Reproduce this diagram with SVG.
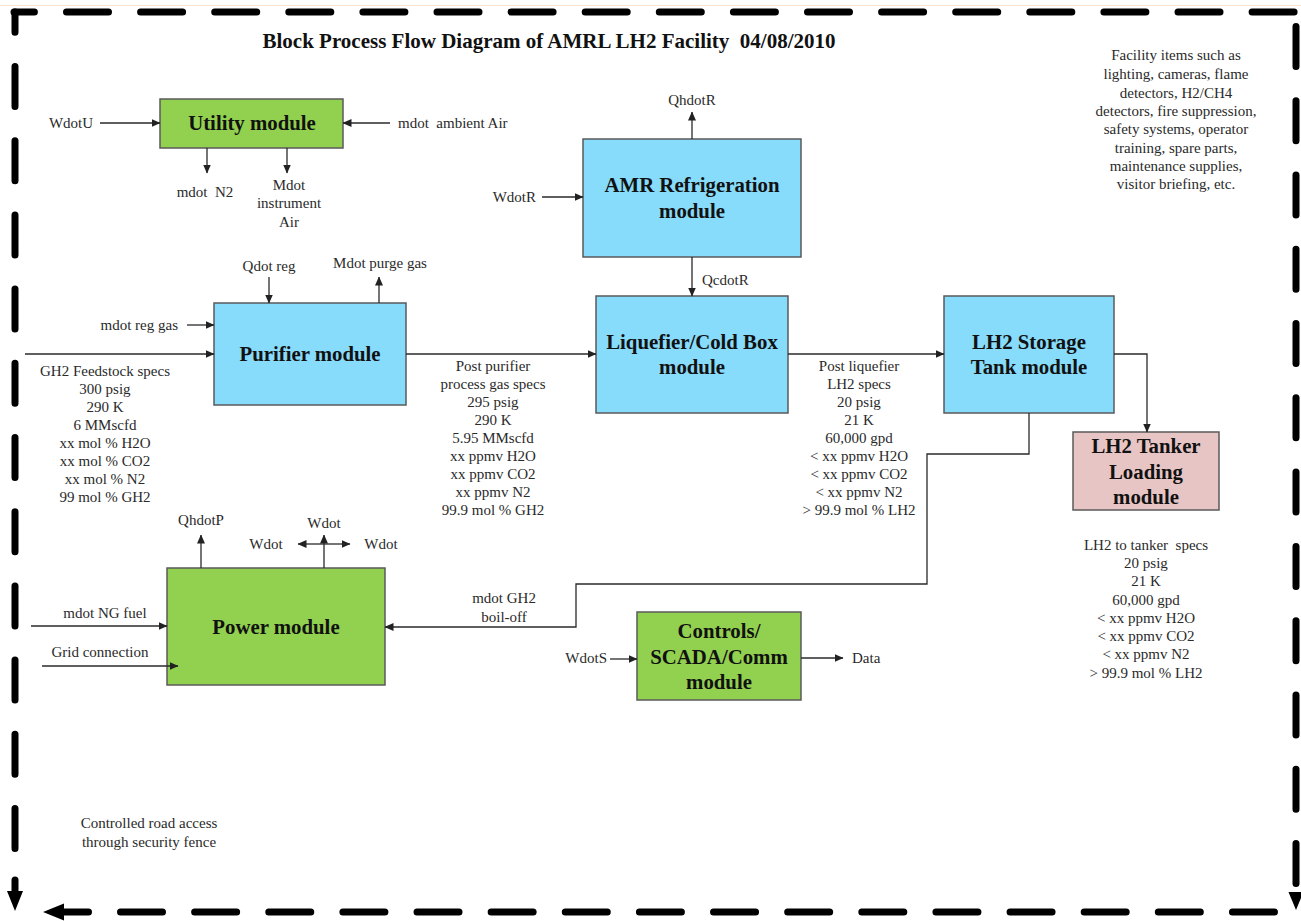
<svg xmlns="http://www.w3.org/2000/svg" width="1301" height="921" viewBox="0 0 1301 921">
<defs>
<marker id="ah" markerWidth="9" markerHeight="8" refX="8.5" refY="4" orient="auto" markerUnits="userSpaceOnUse"><path d="M0,0 L9,4 L0,8 z" fill="#222"/></marker>
<style>
.lbl{font-family:"Liberation Serif","Times New Roman",serif;font-size:15px;fill:#2a2a2a;text-anchor:middle;white-space:pre}
.st{text-anchor:start}
.en{text-anchor:end}
.mod{font-family:"Liberation Serif","Times New Roman",serif;font-size:20.8px;font-weight:bold;fill:#111;text-anchor:middle}
.ttl{font-family:"Liberation Serif","Times New Roman",serif;font-size:21px;font-weight:bold;fill:#111;text-anchor:middle;white-space:pre}
.box{stroke:#5a5a5a;stroke-width:1.5}
.green{fill:#92d050}
.blue{fill:#87dbfb}
.pink{fill:#e8c5c5}
.ln{fill:none;stroke:#2a2a2a;stroke-width:1.3}
.arr{marker-end:url(#ah)}
.fence{fill:none;stroke:#000;stroke-width:7;stroke-linecap:round}
</style>
</defs>
<rect width="1301" height="921" fill="#fff"/>
<line x1="0" y1="5.5" x2="1301" y2="5.5" stroke="#fbe3cf" stroke-width="1"/>

<g id="fence">
<path class="fence" d="M14,12 H1296" stroke-dasharray="42 32.1" stroke-dashoffset="21.6"/>
<path class="fence" d="M15,12 V850" stroke-dasharray="40 34.2" stroke-dashoffset="19.7"/>
<path class="fence" d="M15,880 V892"/>
<polygon points="7,891 23,891 15,911" fill="#000"/>
<path class="fence" d="M120.5,912 H1275" stroke-dasharray="42 32.13"/>
<path class="fence" d="M62,912 H88.5"/>
<polygon points="43,912 64,903.5 64,920.5" fill="#000"/>
<path class="fence" d="M1296,26.5 V884" stroke-dasharray="40 34.27"/>
<polygon points="1288.5,892 1303.5,892 1296,910" fill="#000"/>
</g>

<text class="ttl" x="549" y="48">Block Process Flow Diagram of AMRL LH2 Facility  04/08/2010</text>

<g id="utility"><rect class="box green" x="160" y="99" width="183" height="49"/><text class="mod" x="252" y="130">Utility module</text></g>
<g id="amr"><rect class="box blue" x="583" y="139" width="218" height="118"/><text class="mod" x="692" y="192">AMR Refrigeration</text><text class="mod" x="692" y="218">module</text></g>
<g id="purifier"><rect class="box blue" x="214" y="303" width="192" height="102"/><text class="mod" x="310" y="361">Purifier module</text></g>
<g id="liquefier"><rect class="box blue" x="596" y="296" width="192" height="117"/><text class="mod" x="692" y="349">Liquefier/Cold Box</text><text class="mod" x="692" y="374">module</text></g>
<g id="storage"><rect class="box blue" x="944" y="296" width="170" height="117"/><text class="mod" x="1029" y="349">LH2 Storage</text><text class="mod" x="1029" y="374">Tank module</text></g>
<g id="tanker"><rect class="box pink" x="1073" y="432" width="146" height="78"/><text class="mod" x="1146" y="453">LH2 Tanker</text><text class="mod" x="1146" y="479">Loading</text><text class="mod" x="1146" y="504">module</text></g>
<g id="power"><rect class="box green" x="167" y="568" width="218" height="117"/><text class="mod" x="276" y="634">Power module</text></g>
<g id="controls"><rect class="box green" x="637" y="612" width="164" height="88"/><text class="mod" x="719" y="638">Controls/</text><text class="mod" x="719" y="664">SCADA/Comm</text><text class="mod" x="719" y="689">module</text></g>

<g id="connectors">
<path class="ln arr" d="M100,123 H160"/>
<path class="ln arr" d="M390,123 H343"/>
<path class="ln arr" d="M207,148 V173"/>
<path class="ln arr" d="M287,148 V173"/>
<path class="ln arr" d="M692,139 V112"/>
<path class="ln arr" d="M542,197 H583"/>
<path class="ln arr" d="M692,257 V296"/>
<path class="ln arr" d="M269,277 V303"/>
<path class="ln arr" d="M379,303 V277"/>
<path class="ln arr" d="M187,325 H214"/>
<path class="ln arr" d="M25,354 H214"/>
<path class="ln arr" d="M406,354 H596"/>
<path class="ln arr" d="M788,354 H944"/>
<path class="ln arr" d="M1114,354 H1147 V432"/>
<path class="ln arr" d="M1029,413 V454 H927 V584 H576 V627 H385" stroke="#444"/>
<path class="ln arr" d="M201,568 V535"/>
<path class="ln arr" d="M324,568 V535"/>
<path class="ln arr" d="M324,544 H298"/>
<path class="ln arr" d="M324,544 H350"/>
<path class="ln arr" d="M31,626 H167"/>
<path class="ln arr" d="M42,666 H178"/>
<path class="ln arr" d="M610,659 H637"/>
<path class="ln arr" d="M801,658 H843"/>
</g>

<g id="labels">
<text class="lbl" x="71" y="128">WdotU</text>
<text class="lbl st" x="398" y="128">mdot  ambient Air</text>
<text class="lbl" x="205" y="197">mdot  N2</text>
<text class="lbl" x="289" y="190">Mdot</text>
<text class="lbl" x="289" y="208">instrument</text>
<text class="lbl" x="289" y="227">Air</text>
<text class="lbl" x="692" y="105">QhdotR</text>
<text class="lbl en" x="536" y="202">WdotR</text>
<text class="lbl st" x="702" y="285">QcdotR</text>
<text class="lbl" x="269" y="271">Qdot reg</text>
<text class="lbl" x="380" y="268">Mdot purge gas</text>
<text class="lbl en" x="178" y="330">mdot reg gas</text>

<text class="lbl" x="105"><tspan x="105" y="376">GH2 Feedstock specs</tspan><tspan x="105" y="394">300 psig</tspan><tspan x="105" y="412">290 K</tspan><tspan x="105" y="430">6 MMscfd</tspan><tspan x="105" y="448">xx mol % H2O</tspan><tspan x="105" y="466">xx mol % CO2</tspan><tspan x="105" y="484">xx mol % N2</tspan><tspan x="105" y="502">99 mol % GH2</tspan></text>

<text class="lbl" x="493"><tspan x="493" y="371">Post purifier</tspan><tspan x="493" y="389">process gas specs</tspan><tspan x="493" y="407">295 psig</tspan><tspan x="493" y="425">290 K</tspan><tspan x="493" y="443">5.95 MMscfd</tspan><tspan x="493" y="461">xx ppmv H2O</tspan><tspan x="493" y="479">xx ppmv CO2</tspan><tspan x="493" y="497">xx ppmv N2</tspan><tspan x="493" y="515">99.9 mol % GH2</tspan></text>

<text class="lbl" x="859"><tspan x="859" y="371">Post liquefier</tspan><tspan x="859" y="389">LH2 specs</tspan><tspan x="859" y="407">20 psig</tspan><tspan x="859" y="425">21 K</tspan><tspan x="859" y="443">60,000 gpd</tspan><tspan x="859" y="461">&lt; xx ppmv H2O</tspan><tspan x="859" y="479">&lt; xx ppmv CO2</tspan><tspan x="859" y="497">&lt; xx ppmv N2</tspan><tspan x="859" y="515">&gt; 99.9 mol % LH2</tspan></text>

<text class="lbl" x="1146"><tspan x="1146" y="550">LH2 to tanker  specs</tspan><tspan x="1146" y="568">20 psig</tspan><tspan x="1146" y="586">21 K</tspan><tspan x="1146" y="605">60,000 gpd</tspan><tspan x="1146" y="623">&lt; xx ppmv H2O</tspan><tspan x="1146" y="641">&lt; xx ppmv CO2</tspan><tspan x="1146" y="659">&lt; xx ppmv N2</tspan><tspan x="1146" y="678">&gt; 99.9 mol % LH2</tspan></text>

<text class="lbl" x="1176"><tspan x="1176" y="60">Facility items such as</tspan><tspan x="1176" y="79">lighting, cameras, flame</tspan><tspan x="1176" y="98">detectors, H2/CH4</tspan><tspan x="1176" y="116">detectors, fire suppression,</tspan><tspan x="1176" y="134">safety systems, operator</tspan><tspan x="1176" y="153">training, spare parts,</tspan><tspan x="1176" y="171">maintenance supplies,</tspan><tspan x="1176" y="189">visitor briefing, etc.</tspan></text>

<text class="lbl" x="201" y="525">QhdotP</text>
<text class="lbl" x="324" y="528">Wdot</text>
<text class="lbl" x="266" y="549">Wdot</text>
<text class="lbl" x="381" y="549">Wdot</text>
<text class="lbl" x="105" y="618">mdot NG fuel</text>
<text class="lbl" x="100" y="657">Grid connection</text>
<text class="lbl" x="504" y="603">mdot GH2</text>
<text class="lbl" x="504" y="622">boil-off</text>
<text class="lbl en" x="607" y="663">WdotS</text>
<text class="lbl st" x="852" y="663">Data</text>
<text class="lbl" x="149" y="828">Controlled road access</text>
<text class="lbl" x="149" y="847">through security fence</text>
</g>
</svg>
